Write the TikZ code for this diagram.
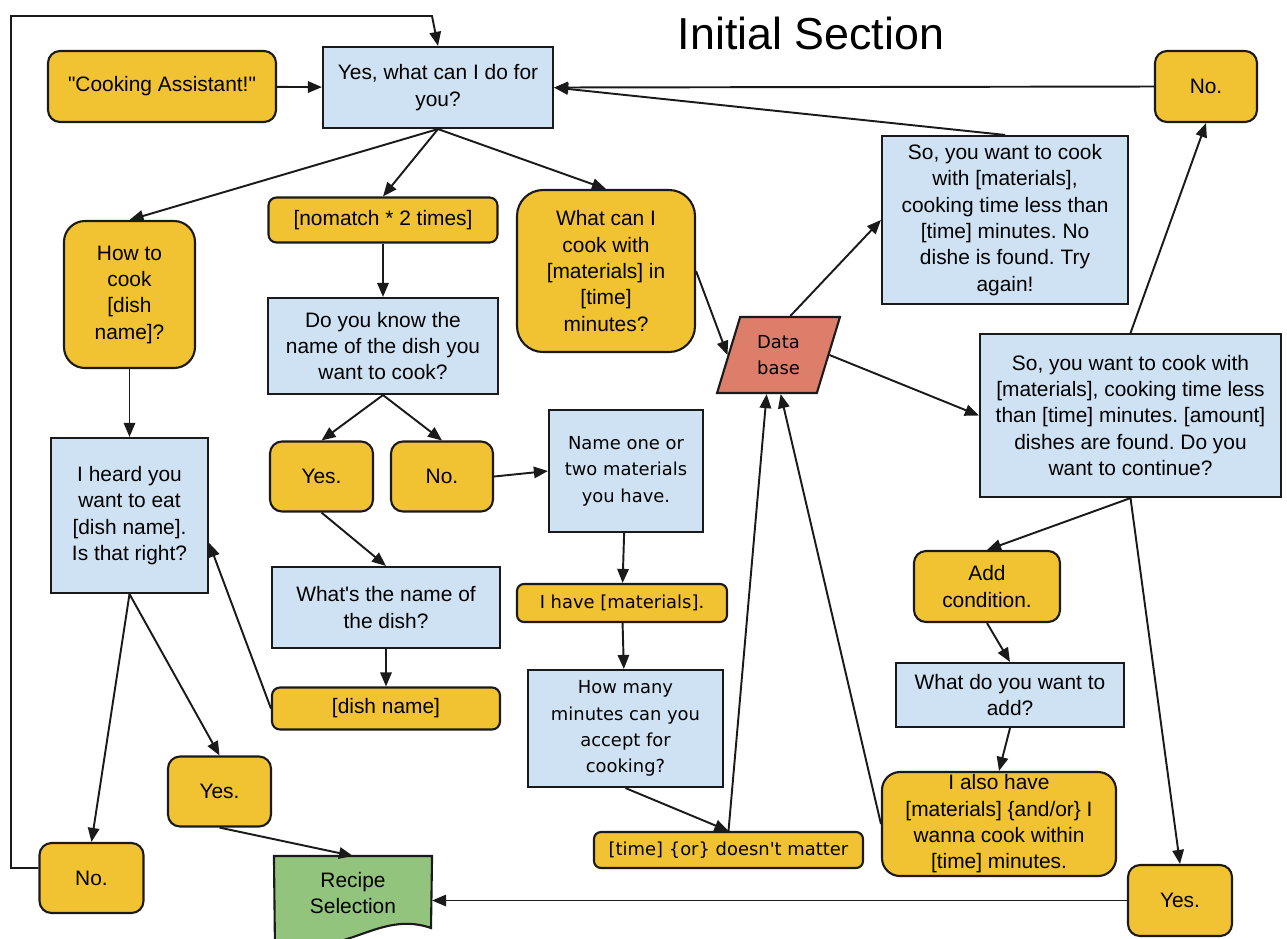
\documentclass[tikz,border=0pt]{standalone}
\usepackage{fontspec}
\setmainfont{Liberation Sans}
\newfontfamily\wideface{DejaVu Sans}
\usetikzlibrary{shapes.geometric, arrows.meta, backgrounds}
\definecolor{answer}{HTML}{F1C232}
\definecolor{prompt}{HTML}{CFE2F3}
\definecolor{store}{HTML}{DD7E6B}
\definecolor{result}{HTML}{93C47D}
\definecolor{edge}{HTML}{1A1A1A}
\frenchspacing

\tikzset{
  sz/.style 2 args={minimum width=#1*0.02cm, minimum height=#2*0.02cm},
  say/.style={draw=edge, fill=prompt, line width=1.2pt, inner sep=0pt, align=center,
    text=black, font=\fontsize{11.9}{15}\selectfont},
  reply/.style={say, fill=answer, rounded corners=#1},
  reply/.default=0.24cm,
  wide/.style={font=\wideface\fontsize{10.2}{15}\selectfont},
  flow/.style={edge, line width=1.1pt, -{Triangle[length=8pt,width=6.5pt]}},
}

\begin{document}
\begin{tikzpicture}[x=0.02cm, y=-0.02cm]
  \useasboundingbox (0,0) rectangle (1287,938);

  \node[font=\fontsize{25.5}{30}\selectfont] (title) at (811,33) {Initial Section};

  % left column
  \node[reply, sz={228}{71}] (cook) at (162,86.5) {\textquotedbl Cooking Assistant!\textquotedbl};
  \node[say, sz={230}{81}] (yeswhat) at (438,87.5) {Yes, what can I do for\\you?};
  \node[reply=0.42cm, sz={131}{147}] (howto) at (129.5,294.5) {How to\\cook\\{}[dish\\name]?};
  \node[say, sz={157}{155}] (iheard) at (129.5,515.5) {I heard you\\want to eat\\{}[dish name].\\Is that right?};
  \node[reply, sz={104}{70}] (noBL) at (91.5,878) {No.};
  \node[reply, sz={103}{70}] (yesL) at (219.5,791.5) {Yes.};
  \node[say, draw=none, fill=none, sz={156}{72}] (recipe) at (353,893) {Recipe\\Selection};

  % middle
  \node[reply=0.16cm, sz={229}{45}] (nomatch) at (383,220) {[nomatch * 2 times]};
  \node[say, sz={230}{96}] (doyouknow) at (383,346) {Do you know the\\name of the dish you\\want to cook?};
  \node[reply, sz={103}{70}] (yesM) at (321.5,476.5) {Yes.};
  \node[reply, sz={102}{70}] (noM) at (442,476.5) {No.};
  \node[say, sz={228}{81}] (whatsname) at (386,607.5) {What\textquotesingle s the name of\\the dish?};
  \node[reply=0.16cm, sz={228}{42}] (dishname) at (386,708.5) {[dish name]};
  \node[reply=0.52cm, sz={178}{162}] (whatcan) at (606,271) {What can I\\cook with\\{}[materials] in\\{}[time]\\minutes?};
  \node[say, wide, sz={154}{122}] (nameone) at (626,471) {Name one or\\two materials\\you have.};
  \node[reply=0.14cm, wide, sz={210}{38}] (ihave) at (622,603) {I have [materials].};
  \node[say, wide, sz={195}{117}] (howmany) at (625.5,728.5) {How many\\minutes can you\\accept for\\cooking?};
  \node[reply=0.14cm, wide, sz={269}{36}] (timeor) at (728.5,850) {[time] \{or\} doesn\textquotesingle t matter};
  \node[say, wide, fill=store, shape=trapezium, trapezium left angle=72, trapezium right angle=108,
    trapezium stretches=true, sz={123}{76}] (base) at (778.5,355) {Data\\base};

  % right
  \node[reply, sz={102}{71}] (noTR) at (1206,86.5) {No.};
  \node[say, sz={246}{168}] (nodishe) at (1005,220) {So, you want to cook\\with [materials],\\cooking time less than\\{}[time] minutes. No\\dishe is found. Try\\again!};
  \node[say, sz={301}{163}] (sofound) at (1130.5,415.5) {So, you want to cook with\\{}[materials], cooking time less\\than [time] minutes. [amount]\\dishes are found. Do you\\want to continue?};
  \node[reply, sz={146}{71}] (addcond) at (987,586.5) {Add\\condition.};
  \node[say, sz={228}{64}] (whatadd) at (1010,695) {What do you want to\\add?};
  \node[reply=0.36cm, sz={234}{104}] (ialso) at (999,824) {I also have\\{}[materials] \{and/or\} I\\wanna cook within\\{}[time] minutes.};
  \node[reply, sz={104}{71}] (yesBR) at (1180,900.5) {Yes.};

  \begin{scope}[on background layer]
    \draw[draw=edge, fill=result, line width=1.2pt] (recipe.north west) -- (recipe.north east) -- (431,928)
      .. controls (400,917) and (375,930) .. (350,938) .. controls (320,948) and (295,952) .. (275,950) -- cycle;
  \end{scope}

  \coordinate (loopBL) at (11,868);
  \coordinate (loopTL) at (11,16);
  \coordinate (loopTR) at (432,16);

  \draw[flow] (cook) -- (yeswhat);
  \draw[flow] (yeswhat.south) -- (howto.north);
  \draw[flow] (yeswhat.south) -- (nomatch.north);
  \draw[flow] (yeswhat.south) -- (whatcan.north);
  \draw[flow] (noTR.west) -- (yeswhat.east);
  \draw[flow] (nodishe.north) -- (yeswhat.east);
  \draw[flow] (howto) -- (iheard);
  \draw[flow] (iheard.south) -- (noBL.north);
  \draw[flow] (iheard.south) -- (yesL.north);
  \draw[flow] (yesL.south) -- (recipe.north);
  \draw[flow] (noBL.west |- loopBL) -- (loopBL) -- (loopTL) -- (loopTR) -- (yeswhat.north);
  \draw[flow] (nomatch) -- (doyouknow);
  \draw[flow] (doyouknow.south) -- (yesM.north);
  \draw[flow] (doyouknow.south) -- (noM.north);
  \draw[flow] (yesM.south) -- (whatsname.north);
  \draw[flow] (whatsname) -- (dishname);
  \draw[flow] (dishname.west) -- (iheard.-19);
  \draw[flow] (noM.east) -- (nameone.west);
  \draw[flow] (nameone) -- (ihave);
  \draw[flow] (ihave) -- (howmany);
  \draw[flow] (howmany.south) -- (timeor.north);
  \draw[flow] (timeor.north) -- (base.bottom side);
  \draw[flow] (whatcan.east) -- (base.left side);
  \draw[flow] (base.top side) -- (nodishe.west);
  \draw[flow] (base.right side) -- (sofound.west);
  \draw[flow] (sofound.north) -- (noTR.south);
  \draw[flow] (sofound.south) -- (addcond.north);
  \draw[flow] (sofound.south) -- (yesBR.north);
  \draw[flow] (addcond.south) -- (whatadd.north);
  \draw[flow] (whatadd.south) -- (ialso.north);
  \draw[flow] (ialso.west) -- ([xshift=0.28cm]base.bottom side);
  \draw[flow] (yesBR.west) -- (yesBR.west -| recipe.east);
\end{tikzpicture}
\end{document}
